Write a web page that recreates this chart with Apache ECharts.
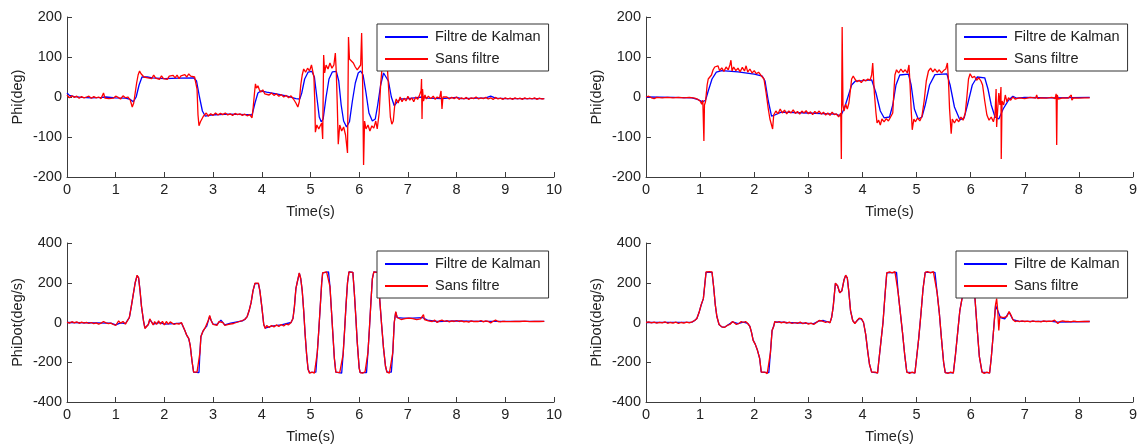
<!DOCTYPE html>
<html>
<head>
<meta charset="utf-8">
<script src="https://cdn.jsdelivr.net/npm/echarts@6/dist/echarts.min.js"></script>
<style>
  html, body { margin: 0; padding: 0; background: #fff; }
  #chart { width: 1142px; height: 445px; }
</style>
</head>
<body>
<div id="chart"></div>
<script>
// noms des courbes
const seriesNames = ["Filtre de Kalman", "Sans filtre"];

// Phi - essai 1 (haut gauche)
const phi1Kalman = [[0,10],[0.05,4],[0.15,1],[0.3,-1],[0.5,-2],[0.7,-1],[0.8,0],[1.0,-2],[1.2,-3],[1.3,-6],[1.36,-12],[1.42,0],[1.48,30],[1.54,50],[1.58,55],[1.65,50],[1.75,48],[2.0,46],[2.3,47],[2.6,48],[2.66,40],[2.72,0],[2.78,-35],[2.84,-48],[2.95,-45],[3.3,-43],[3.7,-44],[3.8,-45],[3.86,-15],[3.92,10],[3.98,15],[4.1,12],[4.3,8],[4.5,3],[4.7,-4],[4.78,-5],[4.82,10],[4.88,45],[4.95,62],[5.03,64],[5.08,50],[5.13,0],[5.18,-50],[5.22,-62],[5.26,-55],[5.32,0],[5.38,45],[5.45,63],[5.53,64],[5.58,40],[5.63,-20],[5.68,-60],[5.74,-75],[5.8,-62],[5.86,-10],[5.92,35],[5.98,60],[6.03,65],[6.08,55],[6.14,10],[6.2,-40],[6.27,-60],[6.33,-55],[6.38,-20],[6.44,30],[6.5,60],[6.54,63],[6.6,40],[6.66,0],[6.72,-22],[6.78,-12],[6.85,-5],[7.0,-4],[7.3,0],[7.4,-3],[7.7,-4],[8.0,-1],[8.1,-4],[8.6,-2],[8.7,2],[8.8,-3],[9.0,-4],[9.8,-4]];
const phi1Sans = [[0,5],[0.05,-2],[0.1,3],[0.15,-1],[0.2,2],[0.25,-3],[0.3,1],[0.35,-2],[0.4,0],[0.45,2],[0.5,-3],[0.55,1],[0.6,-2],[0.65,0],[0.7,-4],[0.75,10],[0.78,-3],[0.82,2],[0.86,-4],[0.9,1],[0.95,-3],[1.0,2],[1.05,-1],[1.1,-5],[1.15,3],[1.2,-2],[1.25,0],[1.3,-8],[1.34,-25],[1.37,-15],[1.4,10],[1.43,35],[1.46,55],[1.49,65],[1.52,58],[1.55,62],[1.58,50],[1.62,55],[1.66,48],[1.7,52],[1.74,46],[1.78,55],[1.82,47],[1.86,50],[1.9,44],[1.94,53],[1.98,46],[2.02,50],[2.06,44],[2.1,52],[2.14,47],[2.18,54],[2.22,48],[2.26,55],[2.3,46],[2.34,53],[2.38,49],[2.42,56],[2.46,50],[2.5,58],[2.54,52],[2.58,57],[2.62,50],[2.65,55],[2.67,20],[2.69,-45],[2.71,-72],[2.74,-62],[2.77,-55],[2.8,-48],[2.83,-52],[2.86,-40],[2.9,-48],[2.95,-42],[3.0,-46],[3.05,-40],[3.1,-45],[3.15,-41],[3.2,-44],[3.25,-40],[3.3,-45],[3.35,-42],[3.4,-46],[3.45,-41],[3.5,-44],[3.55,-42],[3.6,-46],[3.65,-43],[3.7,-47],[3.75,-44],[3.8,-52],[3.82,-30],[3.85,10],[3.87,33],[3.89,22],[3.92,28],[3.95,18],[3.98,12],[4.02,18],[4.06,8],[4.1,12],[4.15,5],[4.2,10],[4.25,4],[4.3,8],[4.35,2],[4.4,6],[4.45,0],[4.5,4],[4.55,-2],[4.6,3],[4.65,-5],[4.7,-15],[4.74,-25],[4.77,-12],[4.8,30],[4.83,55],[4.86,70],[4.9,62],[4.94,72],[4.98,65],[5.02,80],[5.05,85],[5.07,50],[5.09,-20],[5.1,-88],[5.13,-70],[5.17,-80],[5.2,-72],[5.23,-65],[5.25,-105],[5.27,105],[5.29,60],[5.32,80],[5.36,70],[5.4,85],[5.44,72],[5.48,80],[5.51,110],[5.53,60],[5.55,-20],[5.57,-118],[5.6,-70],[5.64,-85],[5.68,-75],[5.72,-95],[5.76,-140],[5.78,150],[5.8,95],[5.84,100],[5.88,85],[5.92,75],[5.96,68],[6.0,72],[6.03,80],[6.05,160],[6.07,40],[6.09,-170],[6.11,-60],[6.14,-80],[6.18,-70],[6.22,-85],[6.26,-72],[6.3,-78],[6.34,-60],[6.37,-80],[6.41,-40],[6.44,30],[6.47,75],[6.5,90],[6.54,80],[6.58,70],[6.61,10],[6.64,-50],[6.67,-68],[6.7,-60],[6.73,-20],[6.76,-5],[6.8,-15],[6.84,0],[6.88,-12],[6.92,-3],[6.96,-10],[7.0,2],[7.04,-8],[7.08,-2],[7.12,-12],[7.16,0],[7.2,-6],[7.24,5],[7.27,15],[7.28,45],[7.29,-55],[7.3,20],[7.32,-10],[7.35,5],[7.38,-5],[7.42,2],[7.47,-4],[7.52,2],[7.56,-6],[7.6,0],[7.65,-3],[7.68,15],[7.7,-30],[7.72,0],[7.75,-4],[7.8,0],[7.85,-5],[7.9,-1],[7.95,-4],[8.0,0],[8.05,-6],[8.1,-2],[8.15,-5],[8.2,-1],[8.25,-6],[8.3,-2],[8.35,-4],[8.4,0],[8.45,-5],[8.5,-2],[8.55,-4],[8.6,-1],[8.65,-5],[8.7,-2],[8.75,-6],[8.8,-1],[8.85,-5],[8.9,-3],[8.95,-6],[9.0,-2],[9.05,-5],[9.1,-3],[9.15,-6],[9.2,-2],[9.25,-5],[9.3,-3],[9.35,-6],[9.4,-2],[9.45,-5],[9.5,-3],[9.55,-5],[9.6,-2],[9.65,-6],[9.7,-3],[9.75,-5],[9.8,-4]];

// Phi - essai 2 (haut droite)
const phi2Kalman = [[0,0],[0.5,-1],[0.85,-2],[0.95,-6],[1.05,-12],[1.1,-8],[1.15,15],[1.22,45],[1.3,62],[1.4,66],[1.7,63],[2.0,57],[2.15,52],[2.2,40],[2.26,-10],[2.32,-48],[2.38,-45],[2.5,-38],[3.0,-40],[3.5,-43],[3.6,-47],[3.66,-30],[3.72,-5],[3.8,30],[3.87,40],[4.0,41],[4.17,43],[4.25,10],[4.33,-35],[4.4,-52],[4.5,-50],[4.56,-20],[4.62,30],[4.69,55],[4.85,57],[4.9,30],[4.96,-30],[5.03,-55],[5.1,-50],[5.16,-20],[5.24,30],[5.34,56],[5.56,58],[5.62,30],[5.7,-25],[5.8,-57],[5.88,-52],[5.95,-15],[6.03,30],[6.12,50],[6.26,48],[6.32,20],[6.38,-20],[6.45,-50],[6.52,-55],[6.6,-30],[6.7,-8],[6.78,2],[6.85,-3],[7.0,-1],[7.5,-2],[8.2,-1]];
const phi2Sans = [[0,0],[0.05,2],[0.1,-2],[0.15,-4],[0.2,-1],[0.3,-2],[0.4,-1],[0.5,-2],[0.6,-1],[0.7,-2],[0.8,-1],[0.9,-3],[0.96,-6],[1.0,-10],[1.03,-18],[1.05,-8],[1.07,-110],[1.08,-20],[1.1,-12],[1.13,30],[1.15,45],[1.18,40],[1.21,55],[1.24,68],[1.27,75],[1.3,70],[1.33,78],[1.36,66],[1.4,73],[1.44,64],[1.48,75],[1.52,68],[1.55,80],[1.57,92],[1.59,65],[1.62,75],[1.66,66],[1.7,72],[1.74,63],[1.78,74],[1.82,65],[1.85,78],[1.88,62],[1.92,70],[1.96,60],[2.0,66],[2.04,58],[2.08,62],[2.12,55],[2.15,58],[2.18,45],[2.22,10],[2.26,-30],[2.29,-55],[2.32,-50],[2.34,-80],[2.36,-45],[2.4,-35],[2.44,-42],[2.48,-30],[2.52,-40],[2.56,-33],[2.6,-42],[2.64,-35],[2.68,-40],[2.72,-32],[2.76,-41],[2.8,-36],[2.84,-43],[2.88,-35],[2.92,-40],[2.96,-34],[3.0,-42],[3.04,-37],[3.08,-44],[3.12,-36],[3.16,-41],[3.2,-35],[3.24,-43],[3.28,-38],[3.32,-45],[3.36,-40],[3.4,-46],[3.44,-38],[3.48,-44],[3.52,-42],[3.56,-50],[3.6,-40],[3.61,-155],[3.625,175],[3.64,-20],[3.66,-35],[3.69,-18],[3.72,-30],[3.75,-15],[3.78,20],[3.8,45],[3.83,52],[3.86,45],[3.9,38],[3.94,42],[3.98,36],[4.02,44],[4.06,40],[4.1,45],[4.14,42],[4.17,55],[4.19,85],[4.2,60],[4.22,10],[4.25,-40],[4.27,-65],[4.3,-58],[4.33,-70],[4.36,-55],[4.4,-62],[4.44,-54],[4.48,-60],[4.52,-50],[4.56,-40],[4.58,10],[4.6,55],[4.63,68],[4.67,60],[4.71,70],[4.75,62],[4.79,68],[4.83,60],[4.86,80],[4.88,30],[4.9,-30],[4.92,-82],[4.95,-55],[4.98,-62],[5.02,-52],[5.06,-60],[5.1,-48],[5.14,-10],[5.18,40],[5.22,65],[5.26,72],[5.3,63],[5.34,70],[5.38,62],[5.42,68],[5.46,60],[5.5,66],[5.54,70],[5.57,85],[5.59,40],[5.61,-30],[5.64,-92],[5.66,-55],[5.7,-65],[5.74,-55],[5.78,-62],[5.82,-50],[5.86,-58],[5.9,-40],[5.93,0],[5.96,45],[5.99,58],[6.03,48],[6.07,52],[6.11,42],[6.15,48],[6.19,40],[6.22,30],[6.26,-10],[6.3,-45],[6.34,-58],[6.38,-50],[6.42,-62],[6.45,-45],[6.47,20],[6.48,-75],[6.5,-30],[6.52,10],[6.54,-20],[6.56,25],[6.565,-155],[6.58,-10],[6.61,-20],[6.64,5],[6.67,-12],[6.7,-2],[6.74,-8],[6.78,0],[6.82,-5],[6.9,-2],[7.0,-4],[7.1,-1],[7.2,-3],[7.22,5],[7.24,-4],[7.3,-2],[7.4,-3],[7.5,-1],[7.56,-4],[7.58,8],[7.59,-120],[7.6,5],[7.62,-5],[7.7,-2],[7.8,-3],[7.86,5],[7.87,-8],[7.9,-2],[8.0,-3],[8.1,-2],[8.2,-2]];

// PhiDot - essai 1 (bas gauche)
const phiDot1Kalman = [[0,0],[0.9,-3],[1.0,-12],[1.1,-2],[1.2,-5],[1.24,2],[1.28,25],[1.32,80],[1.36,140],[1.4,200],[1.44,236],[1.47,225],[1.5,160],[1.53,80],[1.57,10],[1.6,-28],[1.63,-33],[1.67,-10],[1.7,15],[1.77,-8],[1.9,0],[2.0,-8],[2.2,-6],[2.35,-3],[2.38,-10],[2.42,-40],[2.46,-65],[2.5,-82],[2.53,-115],[2.57,-200],[2.6,-250],[2.71,-252],[2.73,-150],[2.75,-70],[2.79,-45],[2.83,-30],[2.87,-18],[2.9,8],[2.93,30],[2.96,10],[3.0,-8],[3.08,-10],[3.16,12],[3.24,-12],[3.36,-3],[3.6,8],[3.65,15],[3.7,30],[3.74,60],[3.78,100],[3.82,160],[3.86,196],[3.93,196],[3.96,160],[4.0,80],[4.04,-10],[4.07,-28],[4.2,-18],[4.4,-12],[4.6,0],[4.64,20],[4.67,80],[4.7,170],[4.73,205],[4.77,248],[4.8,220],[4.83,160],[4.86,60],[4.89,-60],[4.92,-160],[4.95,-235],[4.98,-252],[5.11,-250],[5.14,-150],[5.17,-40],[5.2,80],[5.23,200],[5.25,250],[5.37,255],[5.4,180],[5.43,60],[5.46,-60],[5.49,-180],[5.52,-250],[5.64,-255],[5.67,-160],[5.7,-40],[5.73,90],[5.76,200],[5.79,255],[5.87,252],[5.9,150],[5.93,30],[5.96,-100],[6.0,-230],[6.02,-252],[6.15,-252],[6.18,-150],[6.21,-30],[6.24,100],[6.27,220],[6.3,255],[6.38,252],[6.42,120],[6.46,-10],[6.5,-130],[6.54,-220],[6.57,-250],[6.66,-250],[6.69,-150],[6.72,0],[6.75,52],[6.78,25],[6.9,22],[7.1,22],[7.3,25],[7.4,12],[7.6,5],[8.0,8],[8.5,6],[9.8,6]];
const phiDot1Sans = [[0,2],[0.05,-3],[0.1,4],[0.15,-2],[0.2,3],[0.25,-4],[0.3,2],[0.35,-3],[0.4,1],[0.45,-5],[0.5,0],[0.55,-6],[0.6,-2],[0.65,-8],[0.7,-3],[0.75,5],[0.8,-2],[0.85,-6],[0.9,-3],[0.95,-10],[1.0,-15],[1.03,-5],[1.06,8],[1.1,-3],[1.15,5],[1.2,-8],[1.24,2],[1.28,25],[1.32,80],[1.36,140],[1.4,200],[1.44,238],[1.47,225],[1.5,160],[1.53,80],[1.57,10],[1.6,-30],[1.63,-35],[1.67,-10],[1.7,18],[1.73,5],[1.77,-12],[1.8,5],[1.84,-10],[1.88,8],[1.92,-8],[1.96,6],[2.0,-12],[2.04,5],[2.08,-8],[2.12,3],[2.16,-5],[2.2,-10],[2.25,-5],[2.3,-8],[2.35,0],[2.38,-10],[2.42,-40],[2.46,-65],[2.5,-80],[2.53,-115],[2.57,-200],[2.6,-250],[2.63,-255],[2.67,-250],[2.71,-255],[2.73,-150],[2.75,-70],[2.79,-45],[2.83,-30],[2.87,-20],[2.9,10],[2.93,35],[2.96,10],[3.0,-10],[3.04,-5],[3.08,-15],[3.12,5],[3.16,15],[3.2,0],[3.24,-15],[3.28,-5],[3.32,-10],[3.36,-2],[3.42,-5],[3.48,0],[3.54,5],[3.6,10],[3.65,15],[3.7,30],[3.74,60],[3.78,100],[3.82,160],[3.86,198],[3.9,195],[3.93,198],[3.96,160],[4.0,80],[4.04,-10],[4.07,-30],[4.1,-15],[4.15,-25],[4.2,-15],[4.25,-22],[4.3,-12],[4.35,-20],[4.4,-10],[4.45,-18],[4.5,-8],[4.55,-12],[4.6,0],[4.64,20],[4.67,80],[4.7,170],[4.73,205],[4.77,250],[4.8,220],[4.83,160],[4.86,60],[4.89,-60],[4.92,-160],[4.95,-235],[4.98,-255],[5.03,-250],[5.08,-255],[5.11,-248],[5.14,-150],[5.17,-40],[5.2,80],[5.23,200],[5.25,250],[5.28,258],[5.33,255],[5.37,258],[5.4,180],[5.43,60],[5.46,-60],[5.49,-180],[5.52,-250],[5.56,-258],[5.6,-252],[5.64,-258],[5.67,-160],[5.7,-40],[5.73,90],[5.76,200],[5.79,255],[5.83,260],[5.87,252],[5.9,150],[5.93,30],[5.96,-100],[6.0,-230],[6.02,-252],[6.07,-255],[6.12,-248],[6.15,-255],[6.18,-150],[6.21,-30],[6.24,100],[6.27,220],[6.3,255],[6.34,258],[6.38,252],[6.42,120],[6.46,-10],[6.5,-130],[6.54,-220],[6.57,-250],[6.62,-255],[6.66,-248],[6.69,-150],[6.72,0],[6.75,55],[6.78,25],[6.82,20],[6.86,15],[6.9,25],[6.94,20],[6.98,28],[7.02,22],[7.06,30],[7.1,20],[7.14,25],[7.18,15],[7.22,22],[7.26,18],[7.3,28],[7.32,40],[7.34,15],[7.38,22],[7.42,8],[7.46,12],[7.5,5],[7.55,12],[7.6,0],[7.65,8],[7.7,12],[7.75,5],[7.8,10],[7.85,3],[7.9,8],[7.95,5],[8.0,10],[8.05,5],[8.1,8],[8.15,3],[8.2,6],[8.25,2],[8.3,8],[8.35,4],[8.4,6],[8.45,5],[8.5,10],[8.55,3],[8.6,8],[8.65,5],[8.7,-2],[8.75,6],[8.8,12],[8.85,5],[8.9,3],[8.95,6],[9.0,5],[9.1,4],[9.2,6],[9.3,5],[9.4,7],[9.5,4],[9.6,6],[9.7,5],[9.8,6]];

// PhiDot - essai 2 (bas droite)
const phiDot2Kalman = [[0,0],[0.85,2],[0.9,10],[0.94,20],[0.98,50],[1.02,88],[1.06,120],[1.09,200],[1.11,252],[1.22,252],[1.25,180],[1.28,90],[1.31,30],[1.35,-10],[1.4,-22],[1.45,-24],[1.5,-15],[1.6,3],[1.7,-6],[1.8,2],[1.88,-5],[1.92,-20],[1.95,-50],[1.98,-88],[2.02,-110],[2.06,-140],[2.1,-180],[2.13,-250],[2.27,-252],[2.3,-150],[2.33,-40],[2.36,-18],[2.38,3],[2.6,0],[2.9,-3],[3.1,-6],[3.2,8],[3.28,10],[3.4,0],[3.43,25],[3.46,80],[3.5,196],[3.54,185],[3.58,150],[3.62,160],[3.66,215],[3.69,236],[3.72,225],[3.75,150],[3.78,60],[3.82,10],[3.86,-3],[3.94,20],[3.98,18],[4.02,0],[4.06,-60],[4.1,-150],[4.13,-210],[4.17,-250],[4.28,-253],[4.3,-200],[4.34,-100],[4.38,0],[4.42,150],[4.45,250],[4.63,252],[4.66,150],[4.7,50],[4.74,-50],[4.78,-160],[4.82,-250],[4.97,-253],[5.0,-180],[5.04,-80],[5.08,40],[5.12,170],[5.16,252],[5.34,252],[5.38,150],[5.42,50],[5.46,-80],[5.5,-200],[5.53,-252],[5.68,-253],[5.72,-160],[5.76,-50],[5.8,60],[5.84,120],[5.9,230],[5.94,253],[5.99,252],[6.03,230],[6.08,120],[6.12,-30],[6.16,-170],[6.21,-250],[6.35,-253],[6.38,-180],[6.42,-50],[6.46,85],[6.5,60],[6.55,25],[6.63,18],[6.71,52],[6.78,15],[6.9,6],[7.5,6],[7.6,2],[8.2,5]];
const phiDot2Sans = [[0,0],[0.05,3],[0.1,-2],[0.15,2],[0.2,-3],[0.25,1],[0.3,-2],[0.35,3],[0.4,-4],[0.45,0],[0.5,-3],[0.55,2],[0.6,-5],[0.65,0],[0.7,-3],[0.75,2],[0.8,-2],[0.85,3],[0.9,10],[0.94,20],[0.98,50],[1.02,90],[1.06,120],[1.09,200],[1.11,255],[1.14,250],[1.17,256],[1.2,250],[1.22,255],[1.25,180],[1.28,90],[1.31,30],[1.35,-10],[1.4,-22],[1.45,-25],[1.5,-15],[1.55,-10],[1.6,5],[1.63,0],[1.67,-10],[1.72,-5],[1.76,5],[1.8,0],[1.84,5],[1.88,-5],[1.92,-20],[1.95,-50],[1.98,-90],[2.02,-110],[2.06,-140],[2.1,-180],[2.13,-250],[2.16,-255],[2.2,-250],[2.24,-257],[2.27,-250],[2.3,-150],[2.33,-40],[2.36,-20],[2.38,5],[2.42,0],[2.46,5],[2.5,-2],[2.55,3],[2.6,-3],[2.65,2],[2.7,-5],[2.75,0],[2.8,-4],[2.85,2],[2.9,-6],[2.95,0],[3.0,-8],[3.05,-3],[3.1,-10],[3.15,0],[3.2,10],[3.25,8],[3.28,12],[3.32,0],[3.36,5],[3.4,-2],[3.43,25],[3.46,80],[3.5,198],[3.54,185],[3.58,150],[3.62,160],[3.66,215],[3.69,238],[3.72,225],[3.75,150],[3.78,60],[3.82,10],[3.86,-5],[3.9,10],[3.94,22],[3.98,20],[4.02,0],[4.06,-60],[4.1,-150],[4.13,-210],[4.17,-250],[4.2,-256],[4.24,-250],[4.28,-255],[4.3,-200],[4.34,-100],[4.38,0],[4.42,150],[4.45,250],[4.5,255],[4.55,250],[4.6,256],[4.63,250],[4.66,150],[4.7,50],[4.74,-50],[4.78,-160],[4.82,-250],[4.87,-256],[4.92,-250],[4.97,-255],[5.0,-180],[5.04,-80],[5.08,40],[5.12,170],[5.16,252],[5.2,256],[5.26,250],[5.31,256],[5.34,250],[5.38,150],[5.42,50],[5.46,-80],[5.5,-200],[5.53,-252],[5.58,-256],[5.63,-250],[5.68,-255],[5.72,-160],[5.76,-50],[5.8,60],[5.84,120],[5.9,230],[5.94,255],[5.99,252],[6.03,230],[6.08,120],[6.12,-30],[6.16,-170],[6.21,-250],[6.25,-256],[6.3,-250],[6.35,-255],[6.38,-180],[6.42,-50],[6.46,90],[6.48,120],[6.5,60],[6.52,-40],[6.54,30],[6.57,20],[6.6,25],[6.63,15],[6.67,30],[6.71,55],[6.74,40],[6.78,15],[6.82,5],[6.86,8],[6.9,4],[6.95,8],[7.0,5],[7.05,7],[7.1,3],[7.15,8],[7.2,4],[7.25,6],[7.3,3],[7.35,8],[7.4,5],[7.45,7],[7.5,6],[7.55,12],[7.58,10],[7.61,-5],[7.65,4],[7.7,8],[7.75,5],[7.8,6],[7.85,3],[7.9,7],[7.95,5],[8.0,4],[8.1,6],[8.2,5]];

// bornes des axes
const timeMaxLeft = 10;
const timeMaxRight = 9;
const phiRange = [-200, 200, 100];
const phiDotRange = [-400, 400, 200];

const font = "'Liberation Sans', Arial, sans-serif";
const textColor = "#222";
const axisColor = "#3c3c3c";

let chart = echarts.init(document.getElementById("chart"));

// positions des 4 sous-graphes
const grids = [
  { left: 67, top: 17, width: 487, height: 160 },
  { left: 646, top: 17, width: 487, height: 160 },
  { left: 67, top: 243, width: 487, height: 160 },
  { left: 646, top: 243, width: 487, height: 160 },
];

const xAxisFor = (gridIndex, max) => ({
  type: "value",
  gridIndex: gridIndex,
  min: 0,
  max: max,
  interval: 1,
  name: "Time(s)",
  nameLocation: "middle",
  nameGap: 27,
  nameTextStyle: { fontFamily: font, fontSize: 14.5, color: textColor },
  axisLine: { onZero: false, lineStyle: { color: axisColor, width: 1 } },
  axisTick: { inside: true, length: 5, lineStyle: { color: axisColor } },
  axisLabel: { margin: 5, fontFamily: font, fontSize: 14.5, color: textColor },
  splitLine: { show: false },
});

const yAxisFor = (gridIndex, range, name) => ({
  type: "value",
  gridIndex: gridIndex,
  min: range[0],
  max: range[1],
  interval: range[2],
  name: name,
  nameLocation: "middle",
  nameGap: 42,
  nameTextStyle: { fontFamily: font, fontSize: 14.5, color: textColor },
  axisLine: { show: true, lineStyle: { color: axisColor, width: 1 } },
  axisTick: { show: true, inside: true, length: 5, lineStyle: { color: axisColor } },
  axisLabel: { margin: 5, fontFamily: font, fontSize: 14.5, color: textColor },
  splitLine: { show: false },
});

const legendAt = (left, top) => ({
  data: seriesNames,
  orient: "vertical",
  left: left,
  top: top,
  padding: [5, 8, 4, 8],
  itemGap: 6,
  itemWidth: 43,
  itemHeight: 2,
  icon: "rect",
  backgroundColor: "#fff",
  borderColor: "#333",
  borderWidth: 1,
  borderRadius: 0,
  selectedMode: false,
  textStyle: { fontFamily: font, fontSize: 14.5, color: textColor, lineHeight: 16, padding: [0, 0, 0, 2] },
});

const lineSeries = (name, data, idx, color) => ({
  name: name,
  type: "line",
  xAxisIndex: idx,
  yAxisIndex: idx,
  data: data,
  symbol: "none",
  showSymbol: false,
  smooth: false,
  lineStyle: { color: color, width: 1.3 },
  itemStyle: { color: color },
  emphasis: { disabled: true },
});

chart.setOption({
  animation: false,
  backgroundColor: "#fff",
  grid: grids,
  xAxis: [
    xAxisFor(0, timeMaxLeft),
    xAxisFor(1, timeMaxRight),
    xAxisFor(2, timeMaxLeft),
    xAxisFor(3, timeMaxRight),
  ],
  yAxis: [
    yAxisFor(0, phiRange, "Phi(deg)"),
    yAxisFor(1, phiRange, "Phi(deg)"),
    yAxisFor(2, phiDotRange, "PhiDot(deg/s)"),
    yAxisFor(3, phiDotRange, "PhiDot(deg/s)"),
  ],
  legend: [
    legendAt(377, 24),
    legendAt(956, 24),
    legendAt(377, 251),
    legendAt(956, 251),
  ],
  series: [
    lineSeries(seriesNames[0], phi1Kalman, 0, "#0000ff"),
    lineSeries(seriesNames[1], phi1Sans, 0, "#ff0000"),
    lineSeries(seriesNames[0], phi2Kalman, 1, "#0000ff"),
    lineSeries(seriesNames[1], phi2Sans, 1, "#ff0000"),
    lineSeries(seriesNames[0], phiDot1Kalman, 2, "#0000ff"),
    lineSeries(seriesNames[1], phiDot1Sans, 2, "#ff0000"),
    lineSeries(seriesNames[0], phiDot2Kalman, 3, "#0000ff"),
    lineSeries(seriesNames[1], phiDot2Sans, 3, "#ff0000"),
  ],
});
</script>
</body>
</html>
